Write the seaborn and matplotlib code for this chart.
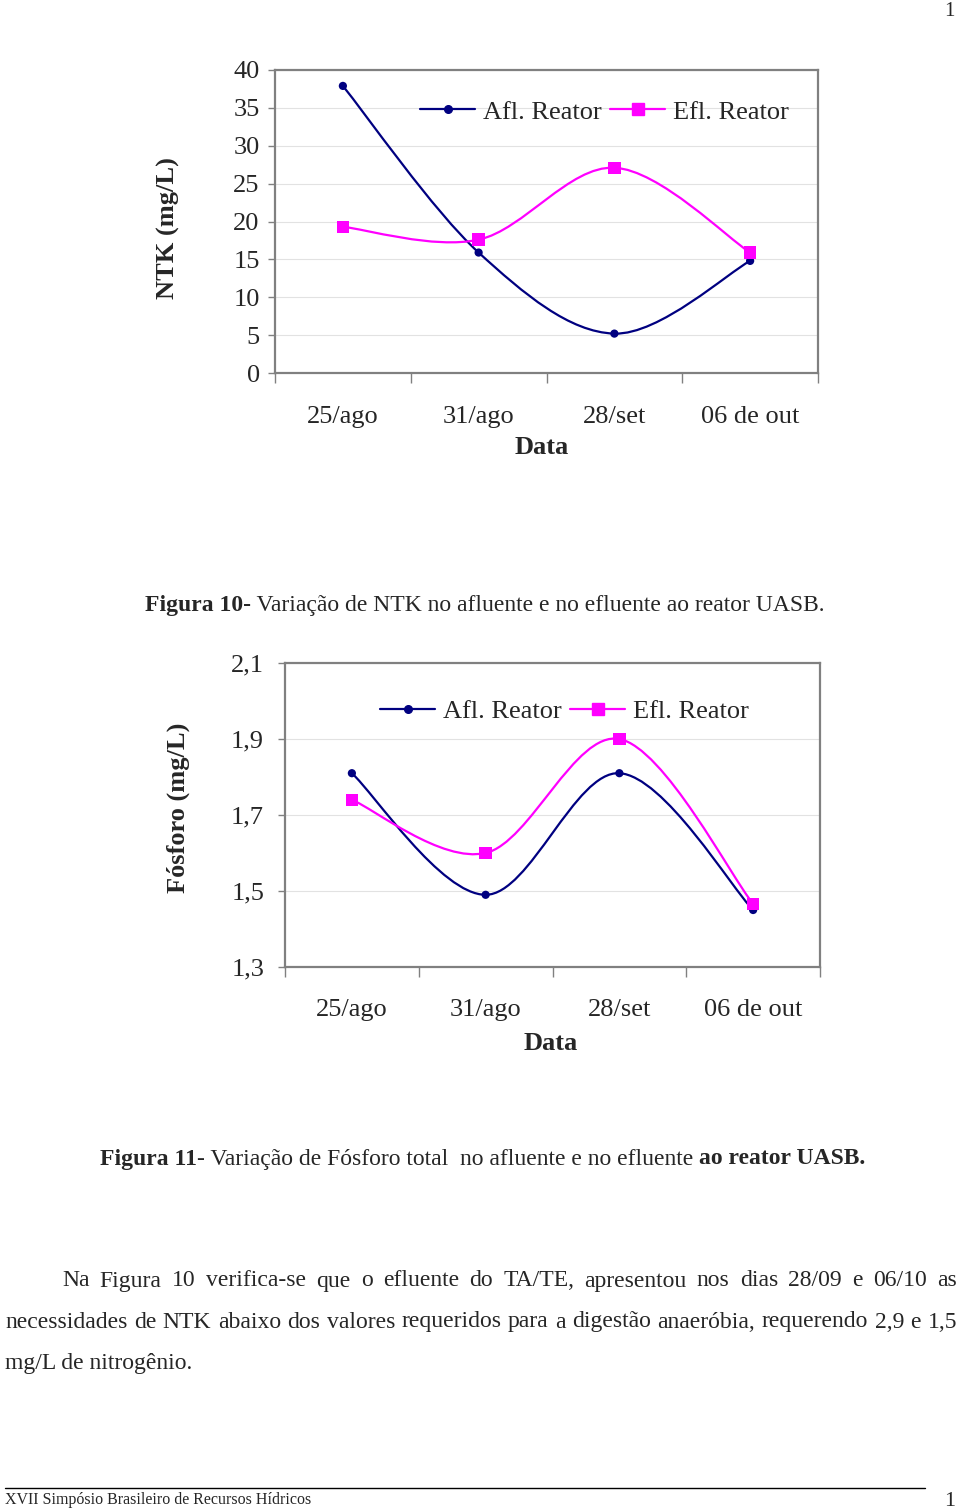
import matplotlib
matplotlib.use("Agg")
import matplotlib.pyplot as plt
import pandas as pd
import seaborn as sns
from matplotlib.lines import Line2D
from matplotlib.patches import PathPatch
from matplotlib.path import Path

DATES = ["25/ago", "31/ago", "28/set", "06 de out"]
SERIES = ["Afl. Reator", "Efl. Reator"]

NTK_AFL = [37.9, 15.9, 5.2, 14.8]
NTK_EFL = [19.3, 17.6, 27.1, 15.9]
NTK_TICKS = [0, 5, 10, 15, 20, 25, 30, 35, 40]
NTK_TICK_LABELS = ["0", "5", "10", "15", "20", "25", "30", "35", "40"]

P_AFL = [1.81, 1.49, 1.81, 1.45]
P_EFL = [1.74, 1.60, 1.90, 1.466]
P_TICKS = [1.3, 1.5, 1.7, 1.9, 2.1]
P_TICK_LABELS = ["1,3", "1,5", "1,7", "1,9", "2,1"]

CAPTION_10 = [("Figura 10-", "bold"), (" Variação de NTK no afluente e no efluente ao reator UASB.", "normal")]
CAPTION_11 = [("Figura 11", "bold"), ("- Variação de Fósforo total  no afluente e no efluente ", "normal"),
              ("ao reator UASB.", "bold")]
PARAGRAPH = [
    "Na Figura 10 verifica-se que o efluente do TA/TE, apresentou nos dias 28/09 e 06/10 as",
    "necessidades de NTK abaixo dos valores requeridos para a digestão anaeróbia, requerendo 2,9 e 1,5",
    "mg/L de nitrogênio.",
]
FOOTER = "XVII Simpósio Brasileiro de Recursos Hídricos"

NAVY = "#000080"
MAGENTA = "#FF00FF"
FRAME = "#808080"

W, H = 960, 1510

sns.set_theme(style="white")
plt.rcParams["font.family"] = ["Liberation Serif", "DejaVu Serif"]

fig = plt.figure(figsize=(W / 100, H / 100), dpi=100)
renderer = fig.canvas.get_renderer()


def fx(px):
    return px / W


def fy(py):
    return 1 - py / H


def smooth_path(xs, ys):
    # Excel-style smoothed line: cubic Bezier segments through the data points
    pts = list(zip(xs, ys))
    ext = [pts[0]] + pts + [pts[-1]]
    verts = [pts[0]]
    codes = [Path.MOVETO]
    for i in range(len(pts) - 1):
        p0, p1, p2, p3 = ext[i], ext[i + 1], ext[i + 2], ext[i + 3]
        c1 = (p1[0] + (p2[0] - p0[0]) / 6, p1[1] + (p2[1] - p0[1]) / 6)
        c2 = (p2[0] - (p3[0] - p1[0]) / 6, p2[1] - (p3[1] - p1[1]) / 6)
        verts += [c1, c2, p2]
        codes += [Path.CURVE4] * 3
    return Path(verts, codes)


def draw_chart(rect, afl, efl, ticks, tick_labels, ylim, ypad, xpad, legend_xy):
    ax = fig.add_axes(rect)
    df = pd.DataFrame({
        "pos": list(range(len(DATES))) * 2,
        "value": afl + efl,
        "serie": [SERIES[0]] * len(afl) + [SERIES[1]] * len(efl),
    })
    for serie, color in zip(SERIES, [NAVY, MAGENTA]):
        sub = df[df["serie"] == serie]
        ax.add_patch(PathPatch(smooth_path(sub["pos"].tolist(), sub["value"].tolist()),
                               facecolor="none", edgecolor=color, lw=1.6, zorder=3))
    sns.scatterplot(data=df, x="pos", y="value", hue="serie", style="serie",
                    palette={SERIES[0]: NAVY, SERIES[1]: MAGENTA},
                    markers={SERIES[0]: "o", SERIES[1]: "s"},
                    size="serie", sizes={SERIES[0]: 35, SERIES[1]: 80},
                    edgecolor="none", legend=False, zorder=4, ax=ax)
    ax.set_xlim(-0.5, len(DATES) - 0.5)
    ax.set_ylim(*ylim)
    ax.set_yticks(ticks)
    ax.set_yticklabels(tick_labels, fontsize=19)
    ax.set_xticks(range(len(DATES)))
    ax.set_xticklabels(DATES, fontsize=19)
    ax.set_xticks([i - 0.5 for i in range(len(DATES) + 1)], minor=True)
    ax.tick_params(axis="x", which="major", length=0, pad=xpad)
    ax.tick_params(axis="x", which="minor", length=7, width=1, color=FRAME, direction="out", bottom=True)
    ax.tick_params(axis="y", length=5, width=1, color=FRAME, direction="out", left=True, pad=ypad)
    ax.set_xlabel("")
    ax.set_ylabel("")
    ax.yaxis.grid(True, color="#e2e2e2", lw=0.8)
    ax.set_axisbelow(True)
    for spine in ax.spines.values():
        spine.set_visible(True)
        spine.set_color(FRAME)
        spine.set_linewidth(1.6)
    handles = [
        Line2D([], [], color=NAVY, lw=1.6, marker="o", markersize=5.5),
        Line2D([], [], color=MAGENTA, lw=1.6, marker="s", markersize=8.5),
    ]
    fig.legend(handles, SERIES, loc="center left", bbox_to_anchor=(fx(legend_xy[0]), fy(legend_xy[1])),
               ncol=2, frameon=False, fontsize=19, handlelength=2.1, handletextpad=0.3,
               columnspacing=0.3, borderpad=0, borderaxespad=0)
    return ax


def text_runs(x, y, runs, size=17):
    for s, weight in runs:
        t = fig.text(fx(x), fy(y), s, fontsize=size, fontweight=weight, ha="left", va="center")
        x += t.get_window_extent(renderer).width


def justified(y, line, left, right, size=17):
    words = line.split(" ")
    widths = []
    for w in words:
        t = fig.text(0, 0, w, fontsize=size)
        widths.append(t.get_window_extent(renderer).width)
        t.remove()
    gap = (right - left - sum(widths)) / (len(words) - 1)
    x = left
    for w, wd in zip(words, widths):
        fig.text(fx(x), fy(y), w, fontsize=size, ha="left", va="center")
        x += wd + gap


# Figura 10 - NTK
draw_chart([fx(275), fy(373), fx(818) - fx(275), (373 - 70) / H],
           NTK_AFL, NTK_EFL, NTK_TICKS, NTK_TICK_LABELS, (0, 40), 6, 24, (420, 112))
fig.text(fx(168), fy(228), "NTK (mg/L)", rotation=90, fontsize=19, fontweight="bold", ha="center", va="center")
fig.text(fx(542), fy(448), "Data", fontsize=19, fontweight="bold", ha="center", va="center")
text_runs(145, 606, CAPTION_10)

# Figura 11 - Fosforo
draw_chart([fx(285), fy(967), fx(820) - fx(285), (967 - 663) / H],
           P_AFL, P_EFL, P_TICKS, P_TICK_LABELS, (1.3, 2.1), 10, 23, (380, 711))
fig.text(fx(178), fy(808), "Fósforo (mg/L)", rotation=90, fontsize=19, fontweight="bold", ha="center", va="center")
fig.text(fx(551), fy(1044), "Data", fontsize=19, fontweight="bold", ha="center", va="center")
text_runs(100, 1159, CAPTION_11)

# texto
justified(1281, PARAGRAPH[0], 62, 957)
justified(1322, PARAGRAPH[1], 5, 957)
fig.text(fx(5), fy(1363), PARAGRAPH[2], fontsize=17, ha="left", va="center")

# rodape
fig.add_artist(Line2D([fx(5), fx(925)], [fy(1488), fy(1488)], color="black", lw=1))
fig.text(fx(5), fy(1500), FOOTER, fontsize=11.5, ha="left", va="center")
fig.text(fx(955), fy(1501), "1", fontsize=16, ha="right", va="center")
fig.text(fx(955), fy(11), "1", fontsize=15, ha="right", va="center")

fig.savefig("out.png", dpi=100)
